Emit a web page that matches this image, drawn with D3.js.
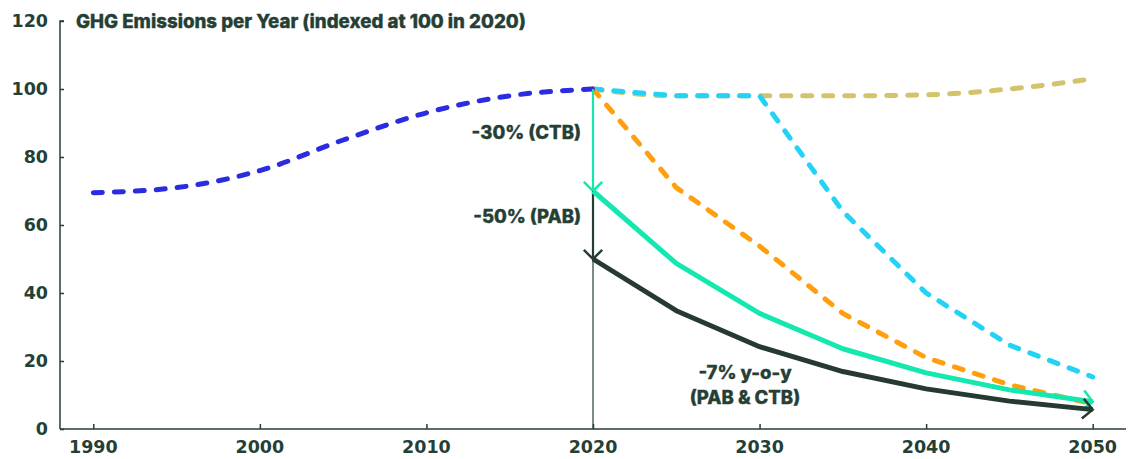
<!DOCTYPE html>
<html>
<head>
<meta charset="utf-8">
<script src="https://cdn.jsdelivr.net/npm/d3@7"></script>
<style>
  html, body { margin: 0; padding: 0; background: #ffffff; }
  svg text { fill: #263f35; }
  .lbl { font-family: Inter, "Noto Sans", sans-serif; font-weight: 800; stroke: #263f35; stroke-width: 0.35px; }
  .tick-lbl { font-family: "DejaVu Sans", sans-serif; font-weight: 700; }
</style>
</head>
<body>
<svg id="chart" width="1136" height="459"></svg>
<script>
// Index values (2020 = 100)
const histYears = [1990, 1995, 2000, 2005, 2010, 2015, 2020];
const histValues = [69.5, 71, 76, 85, 93, 98, 100];

const futureYears = [2020, 2025, 2030, 2035, 2040, 2045, 2050];
const businessAsUsual = [100, 98, 98, 98, 98.3, 100, 103];
const delayedAction = [100, 98, 98, 64, 40, 24.7, 15.3];
const gradualPath = [100, 71, 53.8, 34, 21, 13, 7.4];
const ctbPath = [70, 48.7, 34, 23.6, 16.5, 11.5, 8];
const pabPath = [50, 34.8, 24.2, 16.9, 11.8, 8.2, 5.7];

const xTicks = [1990, 2000, 2010, 2020, 2030, 2040, 2050];
const yTicks = [0, 20, 40, 60, 80, 100, 120];

const ink = "#263f35";
const svg = d3.select("#chart");

const x = d3.scaleLinear().domain([1988, 2052]).range([60, 1126]);
const y = d3.scaleLinear().domain([0, 120]).range([429, 21]);

// Axes
const yAxis = svg.append("g").attr("transform", `translate(${x(1988)},0)`)
  .call(d3.axisRight(y).tickValues(yTicks).tickSize(4).tickFormat(d3.format("d")));
yAxis.selectAll("text").remove();
yAxis.select(".domain").attr("d", `M4,${y(120)}H0V${y(0)}`);

const xAxis = svg.append("g").attr("transform", `translate(0,${y(0)})`)
  .call(d3.axisTop(x).tickValues(xTicks).tickSize(5).tickFormat(d3.format("d")));
xAxis.selectAll("text").remove();
xAxis.select(".domain").attr("d", `M${x(1988)},0H${x(2052)}`);

svg.selectAll(".domain, .tick line").attr("stroke", ink).attr("stroke-width", 1.5);

svg.append("g").selectAll("text").data(yTicks).join("text")
  .attr("class", "tick-lbl")
  .attr("x", 48).attr("y", d => y(d)).attr("dy", "0.37em")
  .attr("text-anchor", "end").attr("font-size", 17.5).text(d => d);

svg.append("g").selectAll("text").data(xTicks).join("text")
  .attr("class", "tick-lbl")
  .attr("x", d => x(d)).attr("y", 453).attr("text-anchor", "middle")
  .attr("font-size", 17.5).text(d => d);

svg.append("text").attr("class", "lbl").attr("x", 76).attr("y", 27.5).attr("font-size", 18.7)
  .text("GHG Emissions per Year (indexed at 100 in 2020)");

// 2020 reference line
svg.append("line")
  .attr("x1", x(2020)).attr("x2", x(2020)).attr("y1", y(100)).attr("y2", y(0))
  .attr("stroke", ink).attr("stroke-width", 1.2);

const toPts = (years, vals) => years.map((yr, i) => [yr, vals[i]]);
const lineLinear = d3.line().x(d => x(d[0])).y(d => y(d[1]));
const lineSmooth = d3.line().x(d => x(d[0])).y(d => y(d[1])).curve(d3.curveMonotoneX);

function dashed(pts, color, gen) {
  svg.append("path").datum(pts).attr("d", gen)
    .attr("fill", "none").attr("stroke", color).attr("stroke-width", 5)
    .attr("stroke-linecap", "round").attr("stroke-linejoin", "round")
    .attr("stroke-dasharray", "9 12");
}

dashed(toPts(futureYears, businessAsUsual), "#d3c46c", lineSmooth);
dashed(toPts(futureYears, delayedAction), "#22d3f6", lineLinear);
dashed(toPts(futureYears, gradualPath), "#ff9f0f", lineLinear);
dashed(toPts(histYears, histValues), "#2b2be0", lineSmooth);

// Open V arrowhead at (px,py) pointing along angle ang
function arrowHead(px, py, ang, color, len) {
  const spread = Math.PI / 4;
  const a1 = ang + Math.PI - spread, a2 = ang + Math.PI + spread;
  svg.append("path")
    .attr("d", `M${px + len * Math.cos(a1)},${py + len * Math.sin(a1)}L${px},${py}L${px + len * Math.cos(a2)},${py + len * Math.sin(a2)}`)
    .attr("fill", "none").attr("stroke", color).attr("stroke-width", 2.5);
}

// Drops at 2020
svg.append("line").attr("x1", x(2020)).attr("x2", x(2020))
  .attr("y1", y(100)).attr("y2", y(ctbPath[0]))
  .attr("stroke", "#14e8ae").attr("stroke-width", 2.2);
arrowHead(x(2020), y(ctbPath[0]), Math.PI / 2, "#14e8ae", 13);
svg.append("line").attr("x1", x(2020)).attr("x2", x(2020))
  .attr("y1", y(ctbPath[0])).attr("y2", y(pabPath[0]))
  .attr("stroke", ink).attr("stroke-width", 2.2);
arrowHead(x(2020), y(pabPath[0]), Math.PI / 2, ink, 13);

function solid(years, vals, color) {
  const pts = toPts(years, vals);
  svg.append("path").datum(pts).attr("d", lineLinear)
    .attr("fill", "none").attr("stroke", color).attr("stroke-width", 5)
    .attr("stroke-linejoin", "round");
  const n = pts.length;
  const ang = Math.atan2(y(pts[n - 1][1]) - y(pts[n - 2][1]), x(pts[n - 1][0]) - x(pts[n - 2][0]));
  arrowHead(x(pts[n - 1][0]), y(pts[n - 1][1]), ang, color, 14);
}
solid(futureYears, ctbPath, "#14e8ae");
solid(futureYears, pabPath, "#263a31");

// Annotations
const notes = [
  { t: "-30% (CTB)", x: 581, y: 139, anchor: "end" },
  { t: "-50% (PAB)", x: 581, y: 223, anchor: "end" },
  { t: "-7% y-o-y", x: 745, y: 379, anchor: "middle" },
  { t: "(PAB & CTB)", x: 745, y: 404, anchor: "middle" }
];
svg.append("g").selectAll("text").data(notes).join("text")
  .attr("class", "lbl")
  .attr("x", d => d.x).attr("y", d => d.y).attr("text-anchor", d => d.anchor)
  .attr("font-size", 18.5).text(d => d.t);
</script>
</body>
</html>
